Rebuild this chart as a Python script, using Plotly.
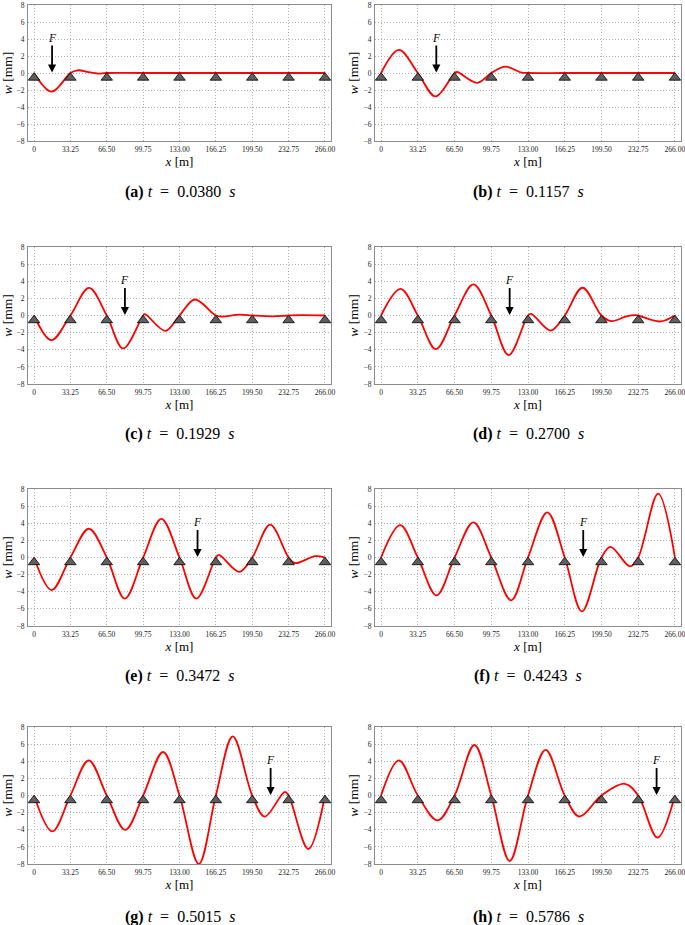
import plotly.graph_objects as go

# ---------------- data ----------------
supports = [0, 33.25, 66.5, 99.75, 133, 166.25, 199.5, 232.75, 266]
x_tick_labels = ["0", "33.25", "66.50", "99.75", "133.00", "166.25", "199.50", "232.75", "266.00"]
y_ticks = [-8, -6, -4, -2, 0, 2, 4, 6, 8]

panel_letters = ["a", "b", "c", "d", "e", "f", "g", "h"]
times = ["0.0380", "0.1157", "0.1929", "0.2700", "0.3472", "0.4243", "0.5015", "0.5786"]
force_x = [16.5, 50.0, 83.1, 116.4, 149.5, 183.0, 216.3, 249.4]

x_a = [0, 16.2, 33.25, 39.7, 50, 58, 66.5, 99.75, 133, 166.25, 199.5, 232.75, 266]
w_a = [0, -2.2, 0, 0.32, 0.1, -0.06, 0, 0, 0, 0, 0, 0, 0]

x_b = [0, 16.2, 33.25, 49.2, 66.5, 68.8, 87, 99.75, 112.5, 127, 133, 166.25, 199.5, 232.75, 266]
w_b = [0, 2.72, 0, -2.75, 0, 0.12, -1.15, 0, 0.75, 0.05, 0, 0, 0, 0, 0]

x_c = [0, 15.9, 33.25, 50.3, 66.5, 81.5, 99.75, 101.5, 120.2, 133, 147, 166.25, 172, 188, 199.5, 218, 232.75, 245, 266]
w_c = [0, -2.88, 0, 3.22, 0, -3.85, 0, 0.15, -1.79, 0, 1.87, 0, -0.12, 0.1, 0, -0.1, 0, 0.05, 0]

x_d = [0, 17.6, 33.25, 49.6, 66.5, 83.6, 99.75, 115.5, 133, 135.9, 153.5, 166.25, 182.4, 199.5, 208.3, 222, 230, 232.75, 252.4, 266]
w_d = [0, 3.1, 0, -3.93, 0, 3.63, 0, -4.63, 0, 0.2, -1.76, 0, 3.24, 0, -0.66, -0.1, 0.05, 0, -0.7, 0]

x_e = [0, 16.1, 33.25, 50.2, 66.5, 83, 99.75, 116.4, 133, 148.4, 166.25, 169, 187.6, 199.5, 215.9, 232.75, 238.7, 257, 266]
w_e = [0, -3.8, 0, 3.36, 0, -4.8, 0, 4.52, 0, -4.8, 0, 0.31, -1.67, 0, 3.83, 0, -0.66, 0.16, 0]

x_f = [0, 17.3, 33.25, 50.2, 66.5, 83.6, 99.75, 117.7, 133, 150.5, 166.25, 181.8, 199.5, 207.7, 225.3, 232.75, 250.8, 266]
w_f = [0, 3.78, 0, -4.42, 0, 4.1, 0, -5.0, 0, 5.28, 0, -6.3, 0, 1.25, -1.03, 0, 7.45, 0]

x_g = [0, 16.7, 33.25, 50, 66.5, 83.4, 99.75, 118, 133, 150.7, 166.25, 181.7, 199.5, 210.8, 229.3, 232.75, 250.8, 266]
w_g = [0, -4.2, 0, 4.1, 0, -4.02, 0, 5.08, 0, -8.0, 0, 6.9, 0, -2.46, 0.43, 0, -6.25, 0]

x_h = [0, 16.1, 33.25, 51.1, 66.5, 84.5, 99.75, 116.4, 133, 149, 166.25, 179.4, 199.5, 220.7, 232.75, 250.2, 266]
w_h = [0, 4.1, 0, -2.9, 0, 5.9, 0, -7.65, 0, 5.33, 0, -2.45, 0, 1.37, 0, -4.92, 0]

curves_x = [x_a, x_b, x_c, x_d, x_e, x_f, x_g, x_h]
curves_w = [w_a, w_b, w_c, w_d, w_e, w_f, w_g, w_h]

# ---------------- layout geometry ----------------
W, H = 685, 925
col_px = [(28, 331), (375, 681)]
row_px = [(5, 141), (247, 384), (489, 626), (727, 864)]
caption_y = [192, 434, 676, 917]

SERIF = "Liberation Serif, DejaVu Serif, serif"
support_offset = -0.55
arrow_top = 3.4
f_label_y = 4.15
NB = "\u00a0"

fig = go.Figure()
layout = dict(
    width=W, height=H, margin=dict(l=0, r=0, t=0, b=0, autoexpand=False),
    paper_bgcolor="white", plot_bgcolor="white", showlegend=False,
    font=dict(family=SERIF, color="black"),
)
annotations = []

for i in range(8):
    r, c = divmod(i, 2)
    n = i + 1
    xa = "x" if n == 1 else f"x{n}"
    ya = "y" if n == 1 else f"y{n}"
    x0, x1 = col_px[c]
    yt, yb = row_px[r]
    layout[f"xaxis{n}" if n > 1 else "xaxis"] = dict(
        domain=[x0 / W, x1 / W], anchor=ya, range=[-5.5, 271.5],
        tickvals=supports, ticktext=x_tick_labels,
        tickfont=dict(size=7.5, family=SERIF, color="#222"),
        showgrid=True, gridcolor="#b0b0b0", griddash="1px,2px", gridwidth=0.9,
        showline=True, linecolor="#8c8c8c", linewidth=1, mirror=True,
        zeroline=False, ticks="", ticklabelstandoff=1, automargin=False,
        ticklabeloverflow="allow",
        title=dict(text="<i>x</i> [m]", font=dict(size=13, family=SERIF), standoff=0),
    )
    layout[f"yaxis{n}" if n > 1 else "yaxis"] = dict(
        domain=[1 - yb / H, 1 - yt / H], anchor=xa, range=[-8, 8],
        tickvals=y_ticks,
        tickfont=dict(size=7.5, family=SERIF, color="#222"),
        showgrid=True, gridcolor="#b0b0b0", griddash="1px,2px", gridwidth=0.9,
        showline=True, linecolor="#8c8c8c", linewidth=1, mirror=True,
        zeroline=False, ticks="", ticklabelstandoff=1, automargin=False,
        ticklabeloverflow="allow",
        title=dict(text="<i>w</i> [mm]", font=dict(size=13.5, family=SERIF), standoff=1),
    )
    # curve
    fig.add_trace(go.Scatter(
        x=curves_x[i], y=curves_w[i], mode="lines",
        line=dict(color="#ff0000", width=1.8, shape="spline", smoothing=1.0),
        xaxis=xa, yaxis=ya, hoverinfo="skip",
    ))
    # supports
    fig.add_trace(go.Scatter(
        x=supports, y=[support_offset] * len(supports), mode="markers",
        marker=dict(symbol="triangle-up", size=10, color="#5f5f5f",
                    line=dict(color="black", width=0.8)),
        xaxis=xa, yaxis=ya, hoverinfo="skip", cliponaxis=False,
    ))
    # force arrow
    annotations.append(dict(
        x=force_x[i], y=0.05, ax=force_x[i], ay=arrow_top,
        xref=xa, yref=ya, axref=xa, ayref=ya,
        showarrow=True, arrowhead=2, arrowsize=0.9, arrowwidth=1.8,
        arrowcolor="black", text="",
    ))
    annotations.append(dict(
        x=force_x[i], y=f_label_y, xref=xa, yref=ya, showarrow=False,
        text="<i>F</i>", font=dict(size=11.5, family=SERIF, color="black"),
    ))
    # caption
    annotations.append(dict(
        x=(x0 + x1) / 2 / W, y=1 - caption_y[r] / H, xref="paper", yref="paper",
        showarrow=False, xanchor="center", yanchor="middle",
        text=(f"<b>({panel_letters[i]})</b>{NB}<i>t</i>{NB}{NB}={NB}{NB}"
              f"{times[i]}{NB}{NB}<i>s</i>"),
        font=dict(size=16, family=SERIF, color="black"),
    ))

layout["annotations"] = annotations
fig.update_layout(**layout)
fig.write_html(
    "out.html",
    config={"displayModeBar": False},
    post_script="document.body.style.margin='0px';document.body.style.overflow='hidden';",
)
